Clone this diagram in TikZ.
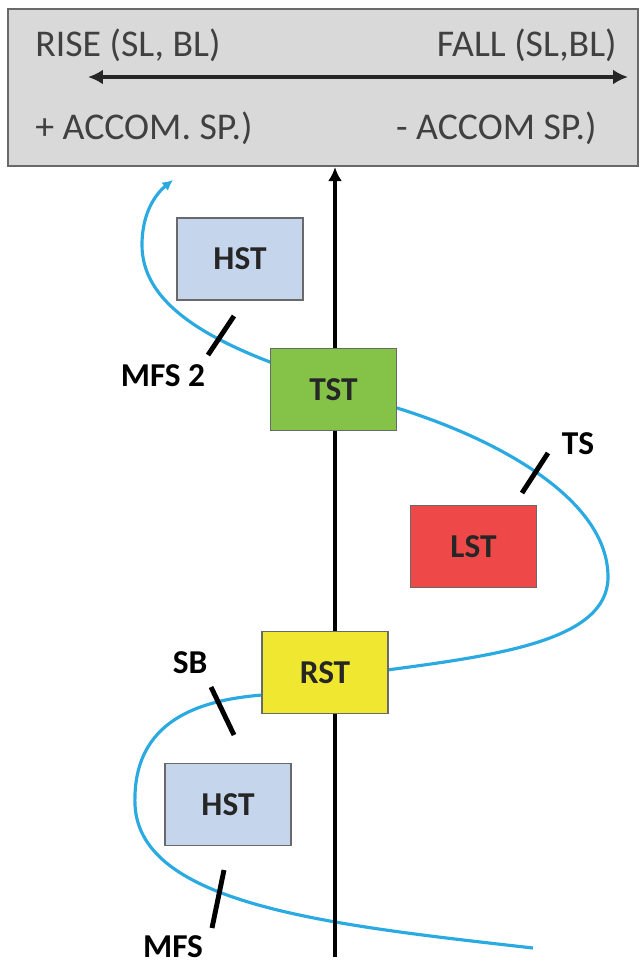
\documentclass[tikz,border=0pt]{standalone}
\usepackage{fontspec}
\setmainfont{Carlito}
\usetikzlibrary{arrows.meta}
\definecolor{headgray}{RGB}{217,217,217}
\definecolor{framegray}{RGB}{105,105,105}
\definecolor{textgray}{RGB}{64,64,64}
\definecolor{curveblue}{RGB}{42,170,224}
\definecolor{hstblue}{RGB}{197,213,236}
\definecolor{tstgreen}{RGB}{132,194,72}
\definecolor{lstred}{RGB}{238,72,72}
\definecolor{rstyellow}{RGB}{240,232,48}
\tikzset{
  tract/.style={draw=framegray, line width=1pt, minimum width=2.52cm, minimum height=1.64cm,
    font=\fontsize{19}{22}\selectfont\bfseries, text=black!85},
  headtext/.style={inner sep=0pt, text=textgray, font=\fontsize{21.5}{24}\selectfont},
  surface/.style={line width=2.8pt},
  tag/.style={font=\fontsize{19}{22}\selectfont\bfseries}
}
\begin{document}
\begin{tikzpicture}[x=0.02cm, y=-0.02cm]
\useasboundingbox (0,0) rectangle (642,968);
\node[draw=framegray, line width=1.2pt, fill=headgray, minimum width=12.6cm, minimum height=3.14cm, inner sep=0pt] (header) at (323,87.5) {};
\node[headtext, anchor=west] (rise) at (35,45) {RISE (SL, BL)};
\node[headtext, anchor=east] (fall) at (617,45) {FALL (SL,BL)};
\node[headtext, anchor=west] (accPlus) at (35,128) {+ ACCOM. SP.)};
\node[headtext, anchor=east] (accMinus) at (597,128) {- ACCOM SP.)};
\coordinate (riseEnd) at (88,77);
\coordinate (fallEnd) at (628,77);
\draw[{Latex[length=8.5pt,width=8.5pt]}-{Latex[length=8.5pt,width=8.5pt]}, line width=2.2pt, black!85] (riseEnd) -- (fallEnd);

\draw[curveblue, line width=1.8pt, -{Latex[length=6pt,width=6pt]}]
  (533,948) .. controls (330,925) and (140,905) .. (135,805)
  .. controls (132,720) and (200,700) .. (262,695)
  .. controls (300,688) and (340,678) .. (387,670)
  .. controls (500,655) and (608,640) .. (608,577)
  .. controls (608,500) and (500,440) .. (397,408)
  .. controls (360,395) and (310,378) .. (270,362)
  .. controls (200,335) and (142,300) .. (142,245)
  .. controls (142,210) and (158,192) .. (173,180);

\coordinate (base) at (335,957);
\draw[-{Latex[length=8pt,width=8pt]}, line width=2.2pt] (base) -- (base |- header.south);

\node[tract, fill=hstblue] (hstTop) at (240,259) {HST};
\node[tract, fill=tstgreen] (tst) at (333.5,389.5) {TST};
\node[tract, fill=lstred] (lst) at (473.5,546.5) {LST};
\node[tract, fill=rstyellow] (rst) at (325,672.5) {RST};
\node[tract, fill=hstblue] (hstBot) at (228,804.5) {HST};

\draw[surface] (234,316) -- (208,355);
\draw[surface] (548,453) -- (522,493);
\draw[surface] (211,687) -- (234,735);
\draw[surface] (224,870) -- (212,928);

\node[tag] (mfsTwo) at (163,376) {MFS 2};
\node[tag] (ts) at (578,444) {TS};
\node[tag] (sb) at (190,663) {SB};
\node[tag] (mfs) at (173,947) {MFS};
\end{tikzpicture}
\end{document}
